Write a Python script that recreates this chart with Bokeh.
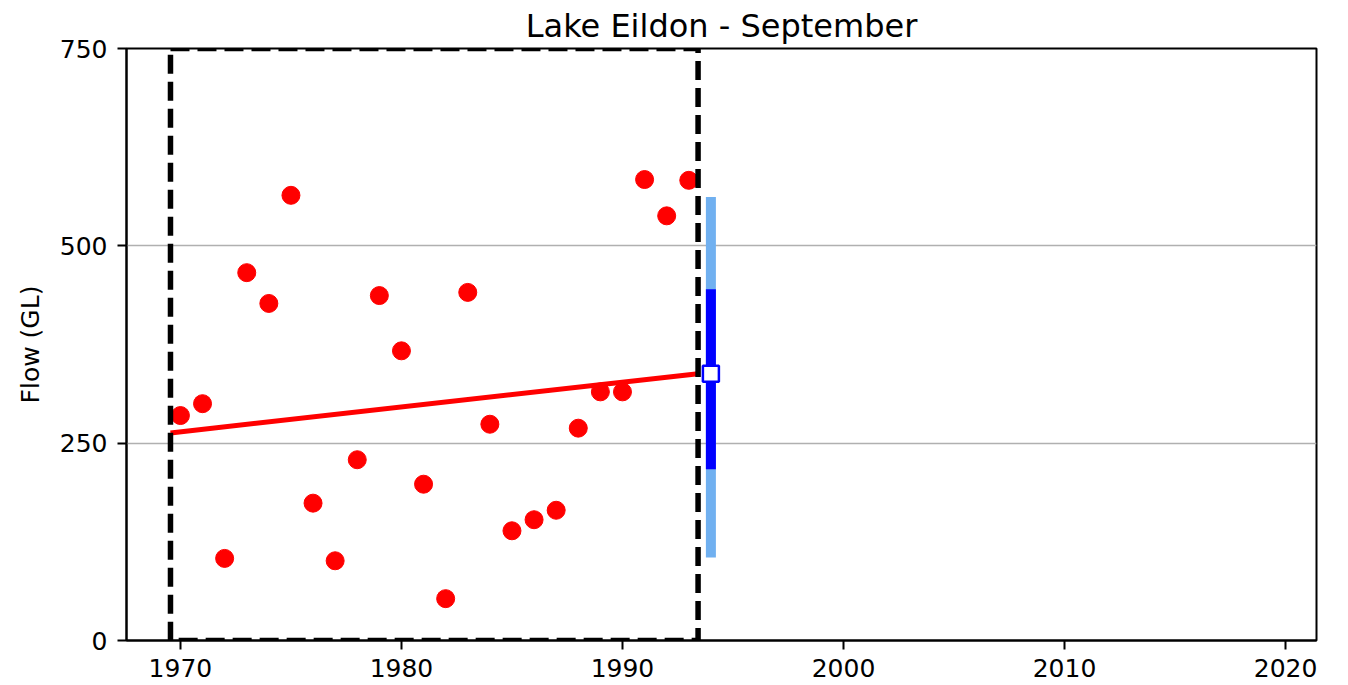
from bokeh.plotting import figure
from bokeh.models import Range1d, FixedTicker, BoxAnnotation, ColumnDataSource
from bokeh.embed import file_html
from bokeh.resources import INLINE

years = list(range(1970, 1994))
flows = [285, 300, 104, 466, 427, 564, 174, 101, 229, 437, 367, 198, 53, 441,
         274, 139, 153, 165, 269, 315, 315, 584, 538, 583]

period_start = 1969.55
period_end = 1993.42
trend_x = [period_start, period_end]
trend_y = [263, 338]

forecast_year = 1994
forecast_mid = 338
forecast_outer = [105, 562]
forecast_inner = [217, 445]

x_ticks = [1970, 1980, 1990, 2000, 2010, 2020]
y_ticks = [0, 250, 500, 750]

FONT = "DejaVu Sans"

p = figure(width=1340, height=685, output_backend="svg", toolbar_location=None,
           x_range=Range1d(1967.56, 2021.40), y_range=Range1d(0, 750),
           min_border_left=126, min_border_right=24, min_border_top=48, min_border_bottom=45,
           title="Lake Eildon - September")

p.title.align = "center"
p.title.text_font = FONT
p.title.text_font_size = "32px"
p.title.text_font_style = "normal"
p.title.text_color = "black"
p.title.standoff = 8

p.outline_line_color = "black"
p.outline_line_width = 2
p.outline_line_alpha = 1

p.xgrid.visible = False
p.ygrid.ticker = FixedTicker(ticks=[250, 500])
p.ygrid.grid_line_color = "#b0b0b0"
p.ygrid.grid_line_width = 1.6

for ax in (p.xaxis[0], p.yaxis[0]):
    ax.axis_line_color = "black"
    ax.axis_line_width = 2
    ax.major_tick_line_color = "black"
    ax.major_tick_line_width = 2
    ax.major_tick_out = 9
    ax.major_tick_in = 0
    ax.minor_tick_line_color = None
    ax.major_label_text_font = FONT
    ax.major_label_text_font_size = "25px"
    ax.major_label_text_color = "black"

p.xaxis.ticker = FixedTicker(ticks=x_ticks)
p.yaxis.ticker = FixedTicker(ticks=y_ticks)
p.xaxis.major_label_standoff = 9
p.yaxis.major_label_standoff = 10
p.yaxis.axis_label = "Flow (GL)"
p.yaxis.axis_label_text_font = FONT
p.yaxis.axis_label_text_font_size = "25px"
p.yaxis.axis_label_text_font_style = "normal"
p.yaxis.axis_label_text_color = "black"
p.yaxis.axis_label_standoff = 12

src = ColumnDataSource(dict(x=years, y=flows))
p.scatter("x", "y", source=src, size=18, color="red", line_color="red")

p.line(trend_x, trend_y, line_color="red", line_width=5)

p.segment(x0=[forecast_year], y0=[forecast_outer[0]], x1=[forecast_year], y1=[forecast_outer[1]],
          line_color="#70b0f0", line_width=10, line_cap="butt")
p.segment(x0=[forecast_year], y0=[forecast_inner[0]], x1=[forecast_year], y1=[forecast_inner[1]],
          line_color="#0000ff", line_width=10, line_cap="butt")
p.scatter([forecast_year], [forecast_mid], marker="square", size=16,
          fill_color="white", line_color="#0000ff", line_width=2.5)

box = BoxAnnotation(left=period_start, right=period_end, bottom=0, top=750,
                    fill_color=None, fill_alpha=0, line_color="black", line_alpha=1,
                    line_width=5.5, line_dash="19 8", level="overlay")
p.add_layout(box)

open("out.html", "w").write(file_html(p, INLINE))
